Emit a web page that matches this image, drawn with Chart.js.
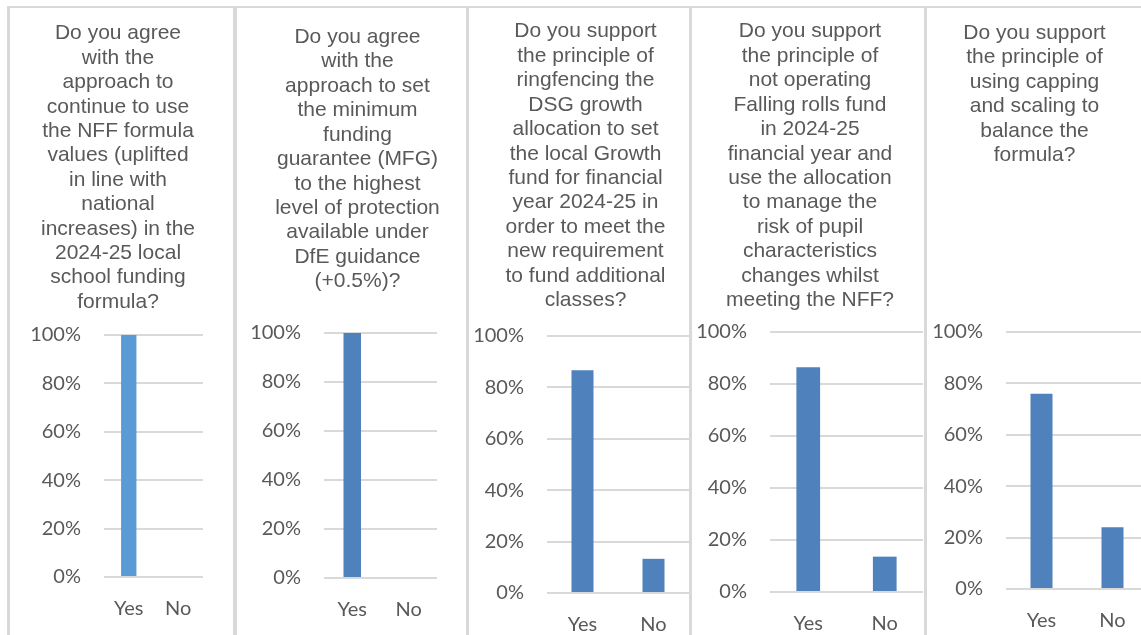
<!DOCTYPE html>
<html>
<head>
<meta charset="utf-8">
<script src="https://cdn.jsdelivr.net/npm/chart.js@4.4.1/dist/chart.umd.min.js"></script>
<style>
  body { margin: 0; width: 1141px; height: 635px; overflow: hidden; background: #fff; position: relative; }
  canvas { position: absolute; top: 0; }
  .rule { position: absolute; background: #d9d9d9; z-index: 2; }
</style>
</head>
<body>
<div class="rule" style="left:7px; top:6px; width:1134px; height:2px"></div>
<div class="rule" style="left:7px; top:6px; width:3px; height:629px"></div>
<div class="rule" style="left:233px; top:6px; width:4px; height:629px"></div>
<div class="rule" style="left:466px; top:6px; width:3px; height:629px"></div>
<div class="rule" style="left:689px; top:6px; width:3px; height:629px"></div>
<div class="rule" style="left:924px; top:6px; width:3px; height:629px"></div>

<canvas id="q1"></canvas>
<canvas id="q2"></canvas>
<canvas id="q3"></canvas>
<canvas id="q4"></canvas>
<canvas id="q5"></canvas>

<script>
// answers, as share of respondents
const categories = ["Yes", "No"];
const q1Values = [1.0, 0];
const q2Values = [1.0, 0];
const q3Values = [0.867, 0.133];
const q4Values = [0.864, 0.136];
const q5Values = [0.76, 0.24];

const q1Title = ["Do you agree", "with the", "approach to", "continue to use", "the NFF formula",
  "values (uplifted", "in line with", "national", "increases) in the", "2024-25 local",
  "school funding", "formula?"];
const q2Title = ["Do you agree", "with the", "approach to set", "the minimum", "funding",
  "guarantee (MFG)", "to the highest", "level of protection", "available under",
  "DfE guidance", "(+0.5%)?"];
const q3Title = ["Do you support", "the principle of", "ringfencing the", "DSG growth",
  "allocation to set", "the local Growth", "fund for financial", "year 2024-25 in",
  "order to meet the", "new requirement", "to fund additional", "classes?"];
const q4Title = ["Do you support", "the principle of", "not operating", "Falling rolls fund",
  "in 2024-25", "financial year and", "use the allocation", "to manage the",
  "risk of pupil", "characteristics", "changes whilst", "meeting the NFF?"];
const q5Title = ["Do you support", "the principle of", "using capping", "and scaling to",
  "balance the", "formula?"];

const H = 635;
const TITLE_SIZE = 21, TITLE_LH = 1.162;
const tickFont = { family: "Lato, 'Liberation Sans', sans-serif", size: 20 };
const grey = "#595959";

// canvas extent and plot box for each panel
const panels = [
  { id: "q1", values: q1Values, title: q1Title, color: "#5b9bd5", left: 10,  right: 226,  plotL: 104,  plotR: 203,  plotT: 335, plotB: 577, firstLine: 33.5 },
  { id: "q2", values: q2Values, title: q2Title, color: "#4f81bd", left: 237, right: 478,  plotL: 324,  plotR: 437,  plotT: 333, plotB: 578, firstLine: 37.3 },
  { id: "q3", values: q3Values, title: q3Title, color: "#4f81bd", left: 469, right: 702,  plotL: 547,  plotR: 689,  plotT: 336, plotB: 593, firstLine: 31.7 },
  { id: "q4", values: q4Values, title: q4Title, color: "#4f81bd", left: 692, right: 928,  plotL: 770,  plotR: 923,  plotT: 332, plotB: 592, firstLine: 31.7 },
  { id: "q5", values: q5Values, title: q5Title, color: "#4f81bd", left: 900, right: 1169, plotL: 1006, plotR: 1148, plotT: 332, plotB: 589, firstLine: 33.3 }
];

panels.forEach(p => {
  const el = document.getElementById(p.id);
  const w = p.right - p.left;
  el.width = w;
  el.height = H;
  el.style.left = p.left + "px";
  el.style.width = w + "px";
  el.style.height = H + "px";

  const lh = TITLE_SIZE * TITLE_LH;
  const padTop = p.firstLine - lh / 2;
  const padBottom = p.plotT - padTop - p.title.length * lh;

  new Chart(el, {
    type: "bar",
    data: {
      labels: categories,
      datasets: [{
        data: p.values,
        backgroundColor: p.color,
        barPercentage: 0.31,
        categoryPercentage: 1
      }]
    },
    options: {
      responsive: false,
      animation: false,
      layout: { padding: 0 },
      plugins: {
        legend: { display: false },
        tooltip: { enabled: false },
        title: {
          display: true,
          text: p.title,
          color: grey,
          font: { family: "'Liberation Sans', Arial, sans-serif", size: TITLE_SIZE, weight: "normal", lineHeight: TITLE_LH },
          padding: { top: padTop, bottom: padBottom }
        }
      },
      scales: {
        x: {
          grid: { display: false },
          border: { display: false },
          ticks: { color: grey, font: tickFont, padding: 12 },
          afterFit: s => { s.height = H - p.plotB; }
        },
        y: {
          min: 0,
          max: 1,
          grid: { color: "#d9d9d9", lineWidth: 2, drawTicks: false },
          border: { display: false },
          ticks: {
            stepSize: 0.2,
            color: grey,
            font: tickFont,
            padding: 23,
            callback: v => Math.round(v * 100) + "%"
          },
          afterFit: s => { s.width = p.plotL - p.left; }
        },
        spacer: {
          type: "linear",
          position: "right",
          grid: { display: false },
          border: { display: false },
          ticks: { display: false },
          afterFit: s => { s.width = p.right - p.plotR; }
        }
      }
    }
  });
});
</script>
</body>
</html>
